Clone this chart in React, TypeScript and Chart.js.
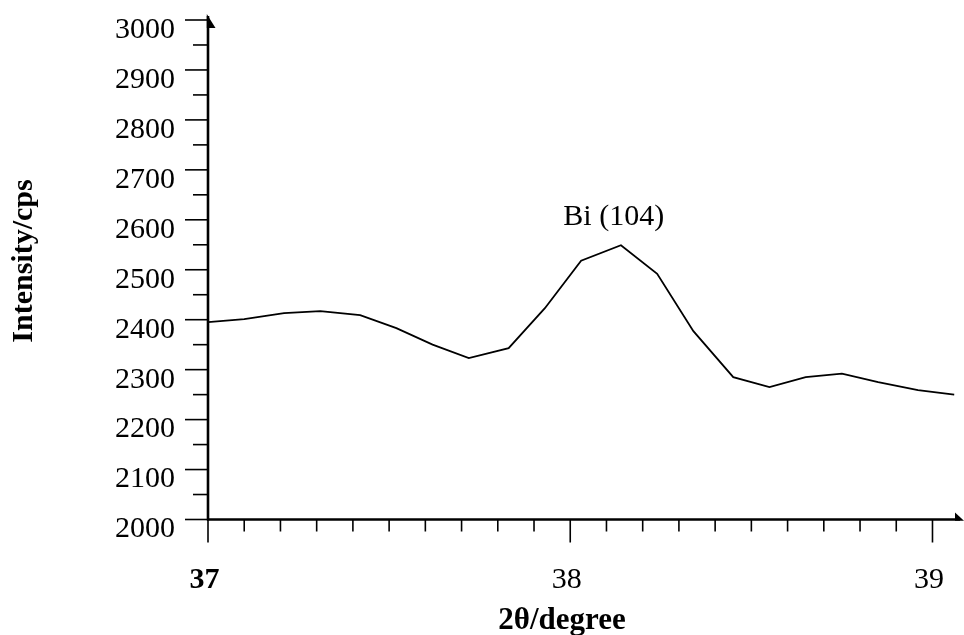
import { useEffect, useRef } from 'react';
import { Chart, registerables } from 'chart.js';

Chart.register(...registerables);

// ---- data ----
const twoTheta = [37.0, 37.1, 37.21, 37.31, 37.42, 37.52, 37.62, 37.72, 37.83, 37.93, 38.03, 38.14, 38.24, 38.34, 38.45, 38.55, 38.65, 38.75, 38.85, 38.96, 39.06];
const intensity = [2395, 2401, 2413, 2417, 2409, 2383, 2350, 2323, 2343, 2423, 2518, 2549, 2492, 2377, 2285, 2265, 2285, 2292, 2275, 2259, 2250];

const xMin = 37;
const xMax = 39.087;
const xMajorStep = 1;
const xMinorStep = 0.1;
const yMin = 2000;
const yMax = 3000;
const yMajorStep = 100;
const yMinorStep = 50;

const xAxisTitle = '2θ/degree';
const yAxisTitle = 'Intensity/cps';
const peakLabels = ['Bi (104)'];
const peakLabelX = [38.12];
const peakLabelY = [2590];

const FONT = "'Liberation Serif', 'Times New Roman', Times, serif";

const isMultiple = (v: number, step: number) => {
  const r = v / step;
  return Math.abs(r - Math.round(r)) < 1e-6;
};

const axesPlugin = {
  id: 'axesPlugin',
  afterDraw(chart: any) {
    const { ctx, chartArea, scales } = chart;
    const xs = scales.x;
    const ys = scales.y;
    const { left, bottom, top } = chartArea;
    ctx.save();
    ctx.strokeStyle = '#000';
    ctx.fillStyle = '#000';

    // y ticks
    ctx.lineWidth = 1.6;
    ys.ticks.forEach((t: any) => {
      if (t.value > yMax + 1e-6) return;
      const y = ys.getPixelForValue(t.value);
      const len = isMultiple(t.value, yMajorStep) ? 23 : 15;
      ctx.beginPath();
      ctx.moveTo(left - len, y);
      ctx.lineTo(left, y);
      ctx.stroke();
    });

    // x ticks
    xs.ticks.forEach((t: any) => {
      if (!isMultiple(t.value, xMinorStep)) return;
      const x = xs.getPixelForValue(t.value);
      const len = isMultiple(t.value, xMajorStep) ? 23 : 12;
      ctx.beginPath();
      ctx.moveTo(x, bottom);
      ctx.lineTo(x, bottom + len);
      ctx.stroke();
    });

    // axes lines
    ctx.lineWidth = 2.6;
    ctx.beginPath();
    ctx.moveTo(left, bottom + 1);
    ctx.lineTo(left, top - 4);
    ctx.stroke();
    ctx.beginPath();
    ctx.moveTo(left - 1, bottom);
    ctx.lineTo(chart.width - 4, bottom);
    ctx.stroke();

    // half arrow heads
    ctx.beginPath();
    ctx.moveTo(left - 1.2, top - 6);
    ctx.lineTo(left + 7.5, top + 8);
    ctx.lineTo(left - 1.2, top + 8);
    ctx.closePath();
    ctx.fill();
    ctx.beginPath();
    ctx.moveTo(chart.width - 9, bottom - 7);
    ctx.lineTo(chart.width, bottom + 1.2);
    ctx.lineTo(chart.width - 9, bottom + 1.2);
    ctx.closePath();
    ctx.fill();

    // peak annotation
    ctx.font = `30px ${FONT}`;
    ctx.textAlign = 'center';
    ctx.textBaseline = 'alphabetic';
    peakLabels.forEach((txt, i) => {
      ctx.fillText(txt, xs.getPixelForValue(peakLabelX[i]), ys.getPixelForValue(peakLabelY[i]));
    });

    // axis titles
    ctx.font = `bold 31px ${FONT}`;
    ctx.fillText(xAxisTitle, 562, 629);

    ctx.save();
    ctx.translate(32, 261);
    ctx.rotate(-Math.PI / 2);
    ctx.font = `bold 30px ${FONT}`;
    ctx.fillText(yAxisTitle, 0, 0);
    ctx.restore();

    ctx.restore();
  },
};

export default function App() {
  const canvasRef = useRef<HTMLCanvasElement | null>(null);

  useEffect(() => {
    if (!canvasRef.current) return;
    const points = twoTheta.map((x, i) => ({ x, y: intensity[i] }));
    const chart = new Chart(canvasRef.current, {
      type: 'line',
      data: {
        datasets: [
          {
            data: points,
            borderColor: '#000',
            borderWidth: 1.8,
            pointRadius: 0,
            tension: 0,
            fill: false,
          },
        ],
      },
      options: {
        animation: false,
        responsive: true,
        maintainAspectRatio: false,
        layout: { padding: { top: 20, right: 0, bottom: 0, left: 0 } },
        plugins: {
          legend: { display: false },
          tooltip: { enabled: false },
        },
        scales: {
          x: {
            type: 'linear',
            min: xMin,
            max: xMax,
            grid: { display: false, drawTicks: false },
            border: { display: false },
            afterFit: (scale: any) => {
              scale.height = 115.5;
              scale.paddingLeft = 0;
              scale.paddingRight = 0;
            },
            ticks: {
              stepSize: xMinorStep,
              includeBounds: false,
              autoSkip: false,
              maxRotation: 0,
              minRotation: 0,
              padding: 43,
              labelOffset: -3.5,
              color: '#000',
              font: (c: any) => ({
                family: FONT,
                size: 30,
                weight: c.tick && Math.abs(c.tick.value - xMin) < 1e-6 ? 'bold' : 'normal',
              }),
              callback: (v: any) => {
                const n = Number(v);
                return isMultiple(n, xMajorStep) ? String(Math.round(n)) : '';
              },
            },
          },
          y: {
            type: 'linear',
            min: yMin,
            max: yMax,
            grid: { display: false, drawTicks: false },
            border: { display: false },
            afterFit: (scale: any) => {
              scale.width = 208;
              scale.paddingTop = 0;
              scale.paddingBottom = 0;
            },
            ticks: {
              stepSize: yMinorStep,
              autoSkip: false,
              padding: 33,
              labelOffset: 10,
              color: '#000',
              font: { family: FONT, size: 30 },
              callback: (v: any) => {
                const n = Number(v);
                return isMultiple(n, yMajorStep) ? String(Math.round(n)) : '';
              },
            },
          },
        },
      },
      plugins: [axesPlugin],
    });
    return () => chart.destroy();
  }, []);

  return (
    <div style={{ position: 'absolute', left: 0, top: 0, width: 964, height: 635, background: '#fff' }}>
      <canvas ref={canvasRef} />
    </div>
  );
}
